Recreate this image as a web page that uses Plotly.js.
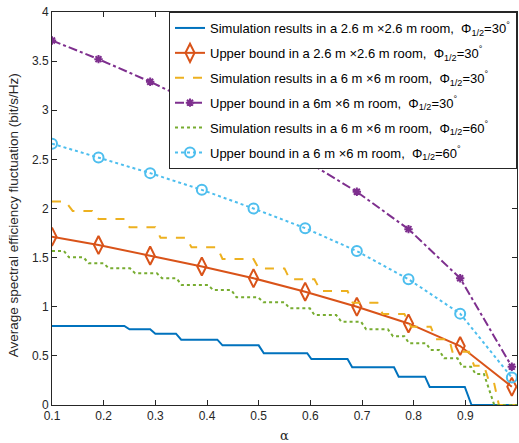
<!DOCTYPE html>
<html>
<head>
<meta charset="utf-8">
<script src="https://cdn.plot.ly/plotly-3.0.1.min.js"></script>
<style>html,body{margin:0;padding:0;background:#fff;}#chart{width:519px;height:443px;}</style>
</head>
<body>
<div id="chart"></div>
<script>
// Marker positions (alpha) of the upper-bound curves
const alphaBound = [0.1, 0.19, 0.29, 0.39, 0.49, 0.59, 0.69, 0.79, 0.89, 0.99];
const upper26m30 = [1.713, 1.628, 1.52, 1.41, 1.29, 1.153, 1.0, 0.83, 0.60, 0.186];
const upper6m30  = [3.71, 3.52, 3.29, 3.04, 2.78, 2.49, 2.17, 1.79, 1.29, 0.39];
const upper6m60  = [2.66, 2.52, 2.36, 2.19, 2.0, 1.80, 1.567, 1.28, 0.93, 0.28];

// Simulation staircases (corner points)
const alphaSim26m30 = [0.1, 0.24, 0.25, 0.29, 0.30, 0.34, 0.35, 0.42, 0.43, 0.50, 0.51, 0.594, 0.602, 0.672, 0.681, 0.762, 0.771, 0.822, 0.831, 0.899, 0.912, 1.0];
const sim26m30      = [0.804, 0.804, 0.77, 0.77, 0.726, 0.726, 0.665, 0.665, 0.607, 0.607, 0.527, 0.527, 0.468, 0.468, 0.384, 0.384, 0.288, 0.288, 0.183, 0.183, 0, 0];

const alphaSim6m30 = [0.1, 0.126, 0.14, 0.178, 0.19, 0.242, 0.25, 0.30, 0.31, 0.36, 0.37, 0.42, 0.43, 0.49, 0.50, 0.55, 0.56, 0.608, 0.62, 0.672, 0.682, 0.73, 0.74, 0.782, 0.795, 0.833, 0.843, 0.869, 0.875, 0.907, 0.917, 0.936, 0.946, 0.955, 0.965, 1.0];
const sim6m30      = [2.07, 2.07, 1.975, 1.975, 1.893, 1.893, 1.81, 1.81, 1.703, 1.703, 1.605, 1.605, 1.486, 1.486, 1.39, 1.39, 1.28, 1.28, 1.16, 1.16, 1.04, 1.04, 0.926, 0.926, 0.797, 0.797, 0.669, 0.669, 0.543, 0.543, 0.40, 0.40, 0.24, 0.24, 0, 0];

const alphaSim6m60 = [0.1, 0.123, 0.133, 0.161, 0.171, 0.2, 0.21, 0.251, 0.261, 0.303, 0.313, 0.341, 0.351, 0.402, 0.412, 0.447, 0.457, 0.499, 0.509, 0.55, 0.56, 0.599, 0.608, 0.65, 0.66, 0.698, 0.708, 0.75, 0.76, 0.782, 0.791, 0.824, 0.833, 0.849, 0.859, 0.885, 0.894, 0.911, 0.92, 0.936, 0.956, 1.0];
const sim6m60      = [1.567, 1.567, 1.503, 1.503, 1.442, 1.442, 1.391, 1.391, 1.34, 1.34, 1.29, 1.29, 1.221, 1.221, 1.17, 1.17, 1.096, 1.096, 1.045, 1.045, 0.984, 0.984, 0.916, 0.916, 0.848, 0.848, 0.77, 0.77, 0.70, 0.70, 0.628, 0.628, 0.56, 0.56, 0.475, 0.475, 0.39, 0.39, 0.316, 0.316, 0, 0];

const seriesNames = [
  'Simulation results in a 2.6 m \u00d72.6 m room,  \u03a6<sub>1/2</sub>=30<sup>\u00b0</sup>',
  'Upper bound in a 2.6 m \u00d72.6 m room,  \u03a6<sub>1/2</sub>=30<sup>\u00b0</sup>',
  'Simulation results in a 6 m \u00d76 m room,  \u03a6<sub>1/2</sub>=30<sup>\u00b0</sup>',
  'Upper bound in a 6m \u00d76 m room,  \u03a6<sub>1/2</sub>=30<sup>\u00b0</sup>',
  'Simulation results in a 6 m \u00d76 m room,  \u03a6<sub>1/2</sub>=60<sup>\u00b0</sup>',
  'Upper bound in a 6 m \u00d76 m room,  \u03a6<sub>1/2</sub>=60<sup>\u00b0</sup>'
];

const xTicks = [0.1, 0.2, 0.3, 0.4, 0.5, 0.6, 0.7, 0.8, 0.9, 1];
const xTickText = ['0.1', '0.2', '0.3', '0.4', '0.5', '0.6', '0.7', '0.8', '0.9', '1'];
const yTicks = [0, 0.5, 1, 1.5, 2, 2.5, 3, 3.5, 4];
const yTickText = ['0', '0.5', '1', '1.5', '2', '2.5', '3', '3.5', '4'];
const yTitle = 'Average spectral efficiency fluctuation (bit/s/Hz)';
const xTitle = '\u03b1';

const FONT = 'Liberation Sans, Arial, Helvetica, sans-serif';
const AX = '#262626';

const traces = [
  {x: alphaSim26m30, y: sim26m30, name: seriesNames[0], legendgroup: 'g1', mode: 'lines',
   line: {color: '#0072BD', width: 2}},
  {x: alphaBound, y: upper26m30, name: seriesNames[1], legendgroup: 'g2', mode: 'lines+markers',
   line: {color: '#D95319', width: 2},
   marker: {symbol: 'diamond-tall-open', size: 13, color: '#D95319', line: {width: 2, color: '#D95319'}}},
  {x: alphaSim6m30, y: sim6m30, name: seriesNames[2], legendgroup: 'g3', mode: 'lines',
   line: {color: '#EDB120', width: 2, dash: 'dash'}},
  {x: alphaBound, y: upper6m30, name: seriesNames[3], legendgroup: 'g4', mode: 'lines+markers',
   line: {color: '#7E2F8E', width: 2, dash: 'dashdot'},
   marker: {symbol: 'asterisk-open', size: 7, color: '#7E2F8E', line: {width: 2, color: '#7E2F8E'}}},
  {x: alphaSim6m60, y: sim6m60, name: seriesNames[4], legendgroup: 'g5', mode: 'lines',
   line: {color: '#77AC30', width: 2, dash: 'dot'}},
  {x: alphaBound, y: upper6m60, name: seriesNames[5], legendgroup: 'g6', mode: 'lines+markers',
   line: {color: '#4DBEEE', width: 2, dash: 'dot'},
   marker: {symbol: 'circle-open', size: 10, color: '#4DBEEE', line: {width: 2, color: '#4DBEEE'}}}
];

const axisCommon = {
  showline: true, mirror: 'ticks', linecolor: AX, linewidth: 1,
  ticks: 'inside', ticklen: 5, tickcolor: AX, tickwidth: 1,
  showgrid: false, zeroline: false,
  tickfont: {family: FONT, size: 12, color: AX}
};

const layout = {
  width: 519, height: 443,
  margin: {l: 52, r: 2, t: 12, b: 38},
  paper_bgcolor: '#fff', plot_bgcolor: '#fff',
  font: {family: FONT, size: 12, color: AX},
  showlegend: true,
  xaxis: Object.assign({}, axisCommon, {
    range: [0.1, 1], tickmode: 'array', tickvals: xTicks, ticktext: xTickText,
    title: {text: xTitle, font: {family: 'DejaVu Serif, serif', size: 13, color: AX}, standoff: 8}
  }),
  yaxis: Object.assign({}, axisCommon, {
    range: [0, 4], tickmode: 'array', tickvals: yTicks, ticktext: yTickText
  }),
  annotations: [{
    text: yTitle, xref: 'paper', yref: 'paper', x: 0, y: 0.483,
    xanchor: 'center', yanchor: 'middle', xshift: -39, textangle: -90,
    showarrow: false, font: {family: FONT, size: 13.5, color: AX}
  }],
  legend: {
    x: 1, xanchor: 'right', y: 1, yanchor: 'top',
    bgcolor: '#fff', bordercolor: AX, borderwidth: 1,
    font: {family: FONT, size: 13, color: '#000'},
    itemwidth: 30, tracegroupgap: 5
  }
};

Plotly.newPlot('chart', traces, layout, {displayModeBar: false, staticPlot: true});
</script>
</body>
</html>
